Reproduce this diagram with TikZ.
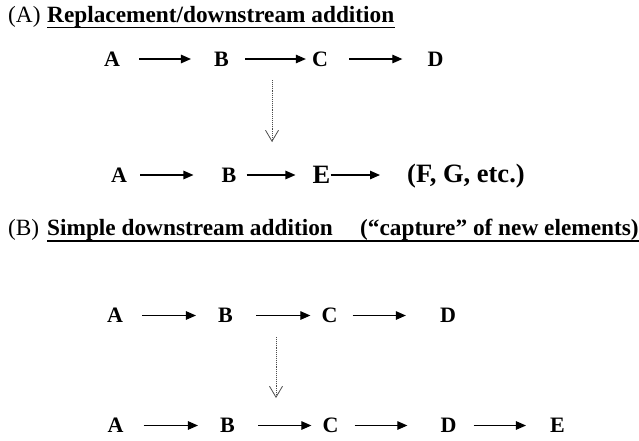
\documentclass[tikz,border=0pt]{standalone}
\usepackage{fontspec}
\setmainfont{Liberation Serif}
\usetikzlibrary{arrows.meta}
\begin{document}
\begin{tikzpicture}[x=1pt,y=-1pt,
  lbl/.style={inner sep=0pt,font=\fontsize{22}{24}\selectfont\bfseries},
  big/.style={inner sep=0pt,font=\fontsize{26.5}{28}\selectfont\bfseries},
  hdr/.style={inner sep=0pt,anchor=base west,font=\fontsize{23.3}{25}\selectfont\bfseries},
  hdrlab/.style={inner sep=0pt,anchor=base west,font=\fontsize{23.3}{25}\selectfont},
  uline/.style={line width=1.5pt},
  flow/.style={line width=1.2pt,-{Triangle[length=10pt,width=8.5pt]}},
  dotarrow/.style={line width=0.9pt,densely dotted,gray!60!black,-{Straight Barb[length=11pt,width=13pt,line width=0.8pt]}}]
\useasboundingbox (0,0) rectangle (639,440);
% headers
\node[hdrlab] (hA) at (8,22) {(A)};
\node[hdr] (tA) at (47,22) {Replacement/downstream addition};
\draw[uline] ([yshift=-5.5pt]tA.base west) -- ([yshift=-5.5pt]tA.base east);
\node[hdrlab] (hB) at (8,235) {(B)};
\node[hdr] (tB1) at (47,235) {Simple downstream addition};
\node[hdr] (tB2) at (360,235) {(“capture” of new elements)};
\draw[uline] ([yshift=-6pt]tB1.base west) -- ([yshift=-6pt]tB2.base east);
% row A1
\node[lbl] (a1) at (112,59) {A};
\node[lbl] (b1) at (221.5,59) {B};
\node[lbl] (c1) at (320,59) {C};
\node[lbl] (d1) at (435.5,59) {D};
\draw[flow,shorten <=19pt,shorten >=23pt] (a1.east) -- (b1.west);
\draw[flow,shorten <=16pt,shorten >=6pt] (b1.east) -- (c1.west);
\draw[flow,shorten <=21pt,shorten >=25pt] (c1.east) -- (d1.west);
% dotted arrow A
\coordinate (va1) at (272,80);
\coordinate (va2) at (272,142);
\draw[dotarrow] (va1) -- (va2);
% row A2
\node[lbl] (a2) at (119,175) {A};
\node[lbl] (b2) at (229,175) {B};
\node[big] (e2) at (321.5,175) {E};
\node[big,anchor=west] (f2) at (407,176.5) {(F, G, etc.)};
\draw[flow,shorten <=13pt,shorten >=28pt] (a2.east) -- (b2.west);
\draw[flow,shorten <=10pt,shorten >=17pt] (b2.east) -- (e2.west);
\draw[flow,shorten <=0pt,shorten >=27pt] (e2.east) -- (e2.east -| f2.west);
% row B1
\node[lbl] (a3) at (115,315.5) {A};
\node[lbl] (b3) at (225.5,315.5) {B};
\node[lbl] (c3) at (329.5,315.5) {C};
\node[lbl] (d3) at (448,315.5) {D};
\draw[flow,shorten <=19pt,shorten >=22pt] (a3.east) -- (b3.west);
\draw[flow,shorten <=23pt,shorten >=11pt] (b3.east) -- (c3.west);
\draw[flow,shorten <=15pt,shorten >=34pt] (c3.east) -- (d3.west);
% dotted arrow B
\coordinate (vb1) at (276,337);
\coordinate (vb2) at (276,398);
\draw[dotarrow] (vb1) -- (vb2);
% row B2
\node[lbl] (a4) at (115.5,425.5) {A};
\node[lbl] (b4) at (227.5,425.5) {B};
\node[lbl] (c4) at (330.5,425.5) {C};
\node[lbl] (d4) at (448.5,425.5) {D};
\node[lbl] (e4) at (557.5,425.5) {E};
\draw[flow,shorten <=20pt,shorten >=22pt] (a4.east) -- (b4.west);
\draw[flow,shorten <=23pt,shorten >=11pt] (b4.east) -- (c4.west);
\draw[flow,shorten <=16pt,shorten >=33pt] (c4.east) -- (d4.west);
\draw[flow,shorten <=17pt,shorten >=24pt] (d4.east) -- (e4.west);
\end{tikzpicture}
\end{document}
